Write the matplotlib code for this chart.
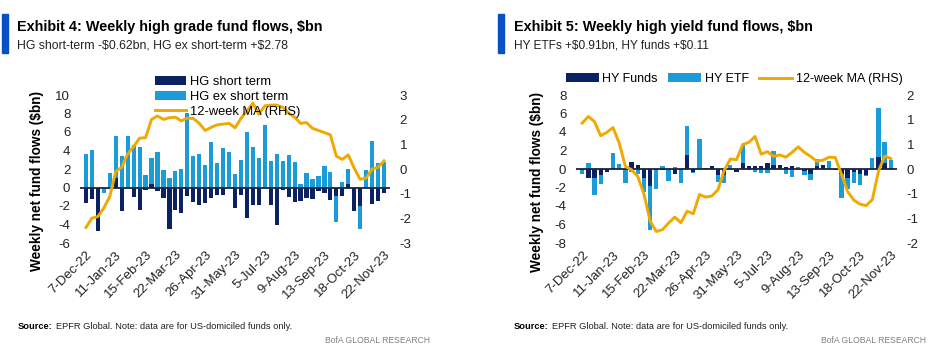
import numpy as np
import pandas as pd
import matplotlib
matplotlib.use("Agg")
from matplotlib import pyplot as plt
from matplotlib.patches import Rectangle

# weekly categories, 7-Dec-22 .. 22-Nov-23
weeks = pd.date_range("2022-12-07", periods=51, freq="7D")
week_labels = [f"{d.day}-{d.strftime('%b-%y')}" for d in weeks]

# Exhibit 4 - high grade ($bn), MA on RHS
hg_short = [-1.7, -1.2, -4.7, 0.0, -0.1, 1.0, -2.5, 0.0, -1.0, -2.4,
            -0.25, 0.4, -0.35, -1.1, -4.45, -2.4, -2.8, -0.9, -1.6, -1.9,
            -1.7, -1.1, -0.85, -0.8, -0.1, -2.25, -0.8, -3.35, -1.9, -1.9,
            -0.1, -1.9, -4.0, -0.3, -1.0, -1.6, -1.5, -1.1, -1.2, -0.35,
            -0.6, -1.35, -0.9, -0.9, 0.35, -2.5, -2.0, 0.0, -1.8, -1.45, -0.62]
hg_ex_short = [3.6, 4.1, 0.0, -0.6, 1.6, 4.6, 3.4, 5.6, 4.6, 4.35,
               1.35, 2.75, 3.8, 1.9, 1.0, 1.8, 2.05, 8.1, 3.4, 3.6,
               2.4, 4.9, 2.7, 4.25, 3.8, 1.45, 3.0, 6.0, 4.35, 3.15,
               6.8, 2.85, 3.65, 2.85, 3.5, 2.8, 0.4, 1.6, 0.95, 1.2,
               2.3, 1.7, -2.8, 0.6, 1.65, 0.0, -2.5, 1.9, 5.0, 2.65, 2.78]
hg_ma = [-2.37, -1.99, -1.93, -1.58, -1.11, -0.1, 0.07, 0.61, 0.91, 1.25,
         1.27, 2.01, 2.15, 2.01, 2.08, 2.1, 1.95, 2.06, 2.05, 1.85,
         1.56, 1.69, 1.79, 1.82, 1.85, 1.67, 2.05, 2.36, 2.67, 2.22,
         2.56, 2.59, 2.59, 2.5, 2.26, 2.1, 1.85, 1.88, 1.65, 1.56,
         1.48, 1.38, 0.52, 0.39, 0.57, 0.03, -0.42, -0.37, 0.0, 0.07, 0.33]

# Exhibit 5 - high yield ($bn), MA on RHS
hy_funds = [-0.1, -0.95, -0.95, -0.6, -0.35, 0.15, 0.0, -0.05, 0.75, 0.45,
            -1.0, -1.8, -0.1, -0.1, 0.0, -0.55, -0.1, 1.5, -0.3, 0.0,
            0.1, 0.35, -0.7, -0.7, 0.0, -0.35, 0.7, 0.3, 0.3, 0.35,
            0.6, 0.45, 0.45, 0.25, 0.35, 0.0, -0.2, -0.55, 0.3, 0.45,
            0.0, -0.1, -0.5, -1.0, -0.3, -0.5, -0.65, 0.05, 1.35, 0.7, 0.11]
hy_etf = [-0.4, 0.6, -1.9, -1.0, 0.0, 1.55, 0.5, -1.45, -0.3, -0.5,
          -1.5, -4.8, -2.05, 0.35, -1.3, 0.25, -1.4, 3.1, -0.1, 3.2,
          0.0, 0.0, -0.7, -0.8, 0.45, 0.0, 1.9, -0.1, -0.35, -0.45,
          -0.45, 1.45, 0.0, -0.55, -0.9, 0.2, -0.5, -0.6, 0.8, 0.0,
          0.9, 0.0, -2.65, -1.15, -1.2, -1.25, -0.1, 1.1, 5.25, 2.2, 0.91]
hy_ma = [1.24, 1.42, 1.28, 0.9, 0.99, 1.12, 0.7, 0.07, -0.02, -0.2,
         -0.67, -1.4, -1.69, -1.64, -1.46, -1.3, -1.45, -1.14, -1.21, -0.69,
         -0.76, -0.73, -0.56, -0.04, 0.27, 0.25, 0.66, 0.72, 0.88, 0.4,
         0.47, 0.34, 0.38, 0.32, 0.45, 0.6, 0.45, 0.34, 0.21, 0.24,
         0.32, 0.31, -0.14, -0.61, -0.84, -0.95, -0.99, -0.83, -0.06, 0.35, 0.28]

plt.rcParams["font.family"] = ["Liberation Sans", "DejaVu Sans"]
plt.rcParams["axes.unicode_minus"] = False

NAVY = "#0c2161"
LIGHT = "#1b9bd8"
GOLD = "#f0a900"
ACCENT = "#0b4fc7"

W, H = 931, 351
fig = plt.figure(figsize=(W / 100, H / 100), dpi=100)


def fx(x):
    return x / W


def fy(y):
    return 1 - y / H


def panel(x0, x1, dark, light, ma, ylim, yticks, rlim, rticks, rfmt):
    ax = fig.add_axes([fx(x0), fy(243), (x1 - x0) / W, 148 / H])
    x = np.arange(len(dark))
    dark = np.array(dark)
    light = np.array(light)
    # light stacks on top of dark when both go the same way
    bottom = np.where(np.sign(light) == np.sign(dark), dark, 0)
    b1 = ax.bar(x, dark, width=0.7, color=NAVY, zorder=2)
    b2 = ax.bar(x, light, bottom=bottom, width=0.7, color=LIGHT, zorder=2)
    ax.axhline(0, color="#1b2440", lw=1.3, zorder=3)
    ax.set_xlim(-1, len(dark))
    ax.set_ylim(*ylim)
    ax.set_yticks(yticks)
    ax.set_xticks(x[::5])
    ax.set_xticklabels(week_labels[::5], rotation=45, ha="right", va="top",
                       rotation_mode="anchor", fontsize=10, color="#222222")
    ax.tick_params(axis="both", length=0, labelsize=9.5, labelcolor="#222222")
    ax.tick_params(axis="y", pad=7)
    ax.tick_params(axis="x", pad=4)
    for s in ax.spines.values():
        s.set_visible(False)
    ax.patch.set_alpha(0)

    ax2 = ax.twinx()
    ln, = ax2.plot(x, ma, color=GOLD, lw=2.1, zorder=4)
    ax2.set_ylim(*rlim)
    ax2.set_yticks(rticks)
    ax2.set_yticklabels([rfmt % v for v in rticks])
    ax2.tick_params(axis="y", length=0, labelsize=9.5, labelcolor="#222222", pad=7)
    for s in ax2.spines.values():
        s.set_visible(False)
    return ax, [b1, b2, ln]


def header(x_bar, x_text, title, subtitle, x_src, x_brand, sub_size):
    fig.patches.append(Rectangle((fx(x_bar), fy(53)), 6 / W, 39 / H,
                                 transform=fig.transFigure, color=ACCENT))
    fig.text(fx(x_text), fy(31), title, fontsize=10.4, fontweight="bold",
             va="baseline", ha="left", parse_math=False)
    fig.text(fx(x_text), fy(48), subtitle, fontsize=sub_size, va="baseline",
             ha="left", color="#222222", parse_math=False)
    t = fig.text(fx(x_src), fy(329), "Source:", fontsize=6.7, fontweight="bold",
                 va="baseline", ha="left")
    fig.canvas.draw()
    bb = t.get_window_extent()
    fig.text(bb.x1 / W + 3 / W, fy(329),
             "EPFR Global. Note: data are for US-domiciled funds only.",
             fontsize=6.7, va="baseline", ha="left", color="#222222")
    fig.text(fx(x_brand), fy(343), "BofA GLOBAL RESEARCH", fontsize=6.2,
             va="baseline", ha="right", color="#808080")


# left: high grade
axl, hl = panel(80, 390, hg_short, hg_ex_short, hg_ma,
                (-6, 10), range(-6, 11, 2), (-3, 3), range(-3, 4), "%d")
fig.text(fx(37.5), fy(181), "Weekly net fund flows ($bn)", rotation=90,
         fontsize=9.8, fontweight="bold", ha="center", va="center", parse_math=False)
fig.legend(hl, ["HG short term", "HG ex short term", "12-week MA (RHS)"],
           loc="center left", bbox_to_anchor=(fx(155), fy(97)),
           frameon=False, fontsize=9.3, handlelength=2.4, handleheight=0.7,
           handletextpad=0.3, labelspacing=0.22, borderpad=0, borderaxespad=0)
header(2, 17, "Exhibit 4: Weekly high grade fund flows, $bn",
       "HG short-term -$0.62bn, HG ex short-term +$2.78", 18, 430, 8.8)

# right: high yield
axr, hr = panel(576, 897, hy_funds, hy_etf, hy_ma,
                (-8, 8), range(-8, 9, 2), (-2, 2), list(np.linspace(-2, 2, 7)), "%.0f")
fig.text(fx(537.5), fy(182), "Weekly net fund flows ($bn)", rotation=90,
         fontsize=9.8, fontweight="bold", ha="center", va="center", parse_math=False)
fig.legend(hr, ["HY Funds", "HY ETF", "12-week MA (RHS)"], ncol=3,
           loc="center left", bbox_to_anchor=(fx(566), fy(79)),
           frameon=False, fontsize=9.0, handlelength=2.6, handleheight=0.7,
           handletextpad=0.3, columnspacing=0.85, borderpad=0, borderaxespad=0)
header(498, 514, "Exhibit 5: Weekly high yield fund flows, $bn",
       "HY ETFs +$0.91bn, HY funds +$0.11", 514, 926, 8.6)

fig.savefig("out.png", dpi=100)
